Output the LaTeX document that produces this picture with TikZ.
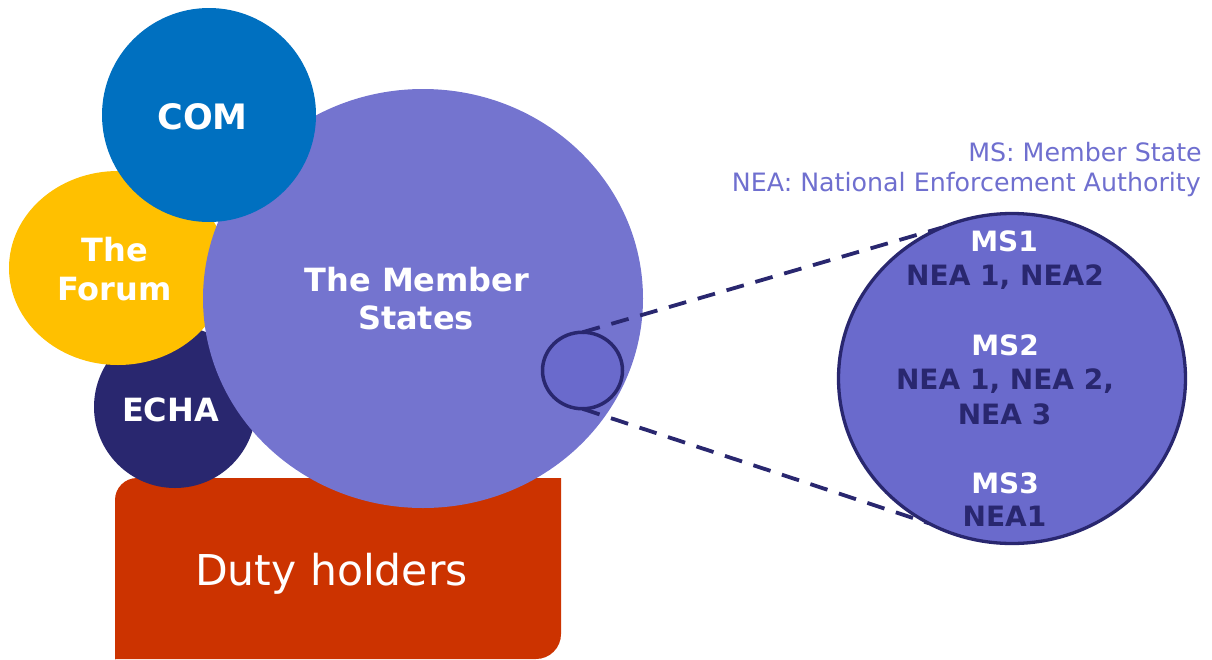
\documentclass[tikz,border=0pt]{standalone}
\usepackage{fontspec}
\setmainfont{DejaVu Sans}
\usetikzlibrary{shapes.geometric}
\definecolor{comblue}{HTML}{0070C0}
\definecolor{forumyellow}{HTML}{FFC000}
\definecolor{echanavy}{HTML}{29276F}
\definecolor{mslilac}{HTML}{7474CF}
\definecolor{zoomlilac}{HTML}{6A6ACC}
\definecolor{dutyred}{HTML}{CC3300}
\definecolor{legendlilac}{HTML}{6F6FCF}
\begin{document}
\begin{tikzpicture}[x=1pt,y=-1pt,
  blob/.style={ellipse, inner sep=0pt, outer sep=0pt},
  bigtxt/.style={text=white, font=\fontsize{32}{38}\selectfont\bfseries, anchor=base, inner sep=0pt},
  mstxt/.style={text=white, font=\fontsize{28}{34}\selectfont\bfseries, anchor=base, inner sep=0pt},
  neatxt/.style={text=echanavy, font=\fontsize{28}{34}\selectfont\bfseries, anchor=base, inner sep=0pt},
  legend/.style={text=legendlilac, font=\fontsize{25.3}{30}\selectfont, anchor=base east, inner sep=0pt},
  zoomline/.style={draw=echanavy, line width=3.8pt, dash pattern=on 18pt off 12pt}
]
\useasboundingbox (0,0) rectangle (1212,659);
% Duty holders
\fill[dutyred] (115,660) -- (115,500) .. controls (115,487.85) and (124.85,478) .. (137,478)
  -- (561,478) -- (561,634) .. controls (561,647.8) and (549.8,659) .. (536,659) -- (115,659) -- cycle;
\node[text=white, font=\fontsize{42.5}{48}\selectfont, anchor=base, inner sep=0pt] (duty) at (331.5,585) {Duty holders};
% circles
\node[blob, fill=echanavy, minimum width=162pt, minimum height=162pt] (echa) at (175,407) {};
\node[blob, fill=forumyellow, minimum width=218pt, minimum height=194pt] (forum) at (118,268) {};
\node[blob, fill=mslilac, minimum width=440pt, minimum height=419pt] (ms) at (423,298.5) {};
\node[blob, fill=comblue, minimum width=214pt, minimum height=214pt] (com) at (209,115) {};
% labels
\node[bigtxt, font=\fontsize{35}{40}\selectfont\bfseries] (comtxt) at (202.5,129) {COM};
\node[bigtxt] (forumtxt1) at (115,261) {The};
\node[bigtxt] (forumtxt2) at (114.5,300) {Forum};
\node[bigtxt] (echatxt) at (170.5,421) {ECHA};
\node[bigtxt] (mstxt1) at (417,291.7) {The Member};
\node[bigtxt] (mstxt2) at (416,329.5) {States};
% zoom
\node[blob, fill=zoomlilac, draw=echanavy, line width=3.5pt, minimum width=80pt, minimum height=76.5pt] (sc) at (582.5,370.5) {};
\node[blob, minimum width=347pt, minimum height=330pt] (zc) at (1012,378.5) {};
\draw[zoomline] (sc.north) -- (zc.115.4);
\draw[zoomline] (sc.south) -- (zc.240.85);
\node[blob, fill=zoomlilac, draw=echanavy, line width=3.3pt, minimum width=347pt, minimum height=330pt] (zcfill) at (1012,378.5) {};
\node[mstxt] (ms1) at (1004,251.7) {MS1};
\node[neatxt] (nea1) at (1005,285) {NEA 1, NEA2};
\node[mstxt] (ms2) at (1005,355) {MS2};
\node[neatxt] (nea2a) at (1005,389.3) {NEA 1, NEA 2,};
\node[neatxt] (nea2b) at (1004.5,424) {NEA 3};
\node[mstxt] (ms3) at (1005,493) {MS3};
\node[neatxt] (nea3) at (1004.5,526.7) {NEA1};
% legend
\node[legend] (leg1) at (1202,161.7) {MS: Member State};
\node[legend] (leg2) at (1201,191.7) {NEA: National Enforcement Authority};
\end{tikzpicture}
\end{document}
